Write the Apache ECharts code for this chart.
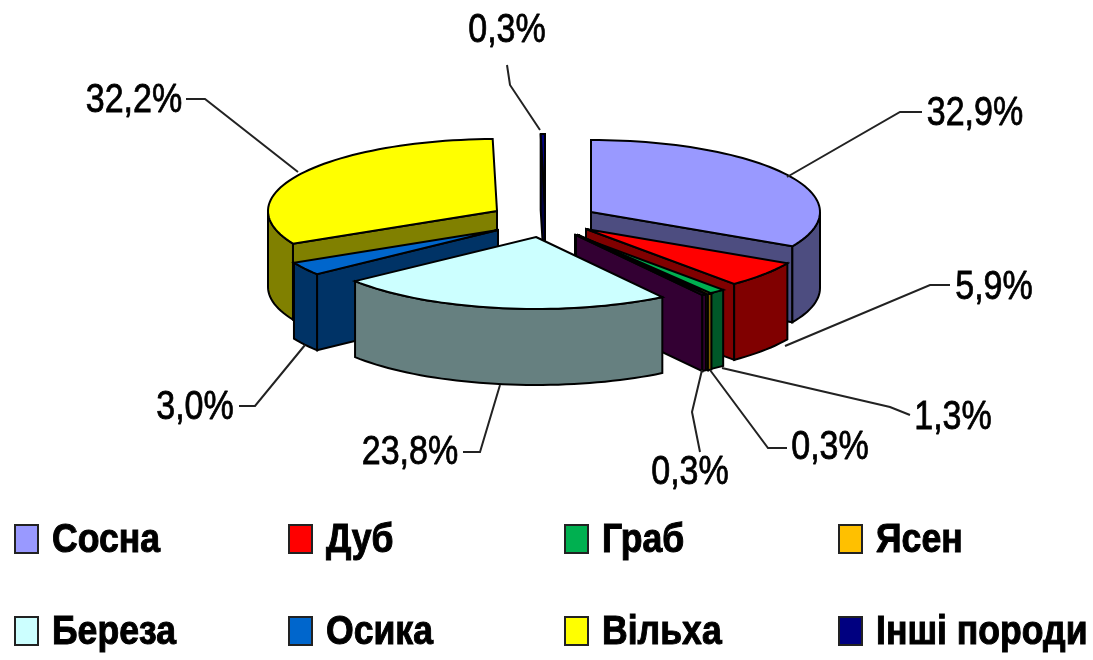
<!DOCTYPE html>
<html><head><meta charset="utf-8">
<style>html,body{margin:0;padding:0;background:#fff}#c{width:1093px;height:660px}</style>
<script src="https://cdn.jsdelivr.net/npm/echarts@6/dist/echarts.min.js"></script>
</head><body><div id="c"></div>
<script>
// ---- data ----
const categories = ['Сосна','Дуб','Граб','Ясен','(без назви)','Береза','Осика','Вільха','Інші породи'];
const shares = [32.9,5.9,1.3,0.3,0.3,23.8,3.0,32.2,0.3];
const legendNames = ['Сосна','Дуб','Граб','Ясен','Береза','Осика','Вільха','Інші породи'];

// ---- styles / layout ----
const topColors  = ['#9999FF','#FF0000','#00B050','#FFC000','#660066','#CCFFFF','#0066CC','#FFFF00','#000080'];
const sideColors = ['#4D4D80','#800000','#005828','#806000','#330033','#668080','#003366','#808000','#000040'];
const RX = 229, RY = 72, DEPTH = 76;
const apexes = [[591,212],[586,229],[575,235],[578,235],[576,235],[536,237],[498,230],[497,211],[545,206]];
const paintOrder = [8,7,0,6,1,2,3,4,5];
const labelPos = [[975,114],[994,288],[953,418],[830,448],[690,473],[410,453],[195,408],[134,101],[507,31]];
const leaders = [
 [[922,112],[900,112],[787,177]],
 [[950,285],[930,285],[785,346]],
 [[910,415],[890,407],[722,368]],
 [[787,448],[768,448],[710,370]],
 [[700,452],[692,412],[702,370]],
 [[463,452],[480,452],[500,385]],
 [[239,406],[255,406],[305,345]],
 [[186,99],[205,99],[298,172]],
 [[507,65],[510,85],[540,130]]
];
const legendCols = [15,289,565,839], legendRows = [525,617];
const SWATCH_W = 23, SWATCH_H = 28, LEGEND_TEXT_DX = 37, LEGEND_TEXT_DY = 16;
const FONT = '"Liberation Sans",Arial,sans-serif';

function startOf(i){ let s=0; for(let k=0;k<i;k++) s+=shares[k]; return s*3.6; }
const rad = d => d*Math.PI/180;
function rim(ax,ay,deg,drop){ return [ax+RX*Math.sin(rad(deg)), ay-RY*Math.cos(rad(deg))+(drop||0)]; }
function arc(ax,ay,a0,a1,drop){
  const pts=[], n=Math.max(2,Math.ceil((a1-a0)/2)+1);
  for(let j=0;j<n;j++) pts.push(rim(ax,ay,a0+(a1-a0)*j/(n-1),drop));
  return pts;
}
function poly(points,fill){ return {type:'polygon',shape:{points},style:{fill,stroke:'#000',lineWidth:2,lineJoin:'miter'}}; }

function renderSlice(i){
  return function(params,api){
    const value = api.value(0), a0 = startOf(i), a1 = a0+value*3.6;
    const [ax,ay] = apexes[i], kids=[];
    const side = sideColors[i], top = topColors[i];
    const radial = d => { const p=rim(ax,ay,d); return poly([[ax,ay],p,[p[0],p[1]+DEPTH],[ax,ay+DEPTH]],side); };
    if(Math.sin(rad(a0))<-1e-6) kids.push(radial(a0));
    if(Math.sin(rad(a1))>1e-6) kids.push(radial(a1));
    const w0=Math.max(a0,90), w1=Math.min(a1,270);
    if(w1>w0) kids.push(poly(arc(ax,ay,w0,w1,0).concat(arc(ax,ay,w0,w1,DEPTH).reverse()),side));
    kids.push(poly([[ax,ay]].concat(arc(ax,ay,a0,a1,0)),top));
    kids.push({type:'polyline',shape:{points:leaders[i]},style:{fill:null,stroke:'#222',lineWidth:2}});
    kids.push({type:'text',x:labelPos[i][0],y:labelPos[i][1],scaleX:0.83,style:{
      text:value.toFixed(1).replace('.',',')+'%',fill:'#000',stroke:'#000',lineWidth:0.8,
      font:'41px '+FONT,align:'center',verticalAlign:'middle'}});
    const k = legendNames.indexOf(categories[i]);
    if(k>=0){
      const lx = legendCols[k%4], ly = legendRows[Math.floor(k/4)];
      kids.push({type:'rect',shape:{x:lx,y:ly,width:SWATCH_W,height:SWATCH_H},
        style:{fill:top,stroke:'#222',lineWidth:2}});
      kids.push({type:'text',x:lx+LEGEND_TEXT_DX,y:ly+LEGEND_TEXT_DY,scaleX:0.89,style:{
        text:categories[i],fill:'#000',stroke:'#000',lineWidth:1,
        font:'bold 40px '+FONT,align:'left',verticalAlign:'middle'}});
    }
    return {type:'group',children:kids};
  };
}

const series = paintOrder.map((i,order)=>({
  type:'custom',name:categories[i],coordinateSystem:'none',z:2+order,silent:true,animation:false,
  itemStyle:{color:topColors[i]},data:[[shares[i]]],renderItem:renderSlice(i)
}));

echarts.init(document.getElementById('c'),null,{renderer:'canvas'}).setOption({
  backgroundColor:'#fff',animation:false,series
});
</script></body></html>
